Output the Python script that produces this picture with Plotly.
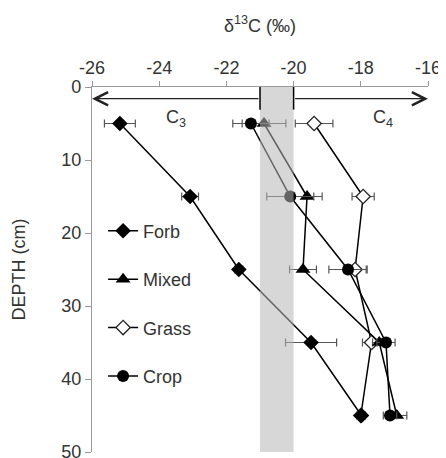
import plotly.graph_objects as go

depth = [5, 15, 25, 35, 45]
forb = [-25.17, -23.08, -21.63, -19.48, -17.98]
forb_err = [0.46, 0.25, 0.12, 0.76, 0.12]
mixed = [-20.88, -19.6, -19.72, -17.45, -16.93]
mixed_err = [0.65, 0.45, 0.4, 0.2, 0.3]
grass = [-19.39, -17.93, -18.17, -17.68, -18.0]
grass_err = [0.56, 0.33, 0.33, 0.27, 0.12]
crop = [-21.27, -20.1, -18.38, -17.25, -17.13]
crop_err = [0.54, 0.7, 0.57, 0.27, 0.2]

x_ticks = [-26, -24, -22, -20, -18, -16]
y_ticks = [0, 10, 20, 30, 40, 50]
band = [-21, -20]

# drawing order (Grass first so Forb covers it at 45 cm); legend order via legendrank
series = [
    ("Grass", grass, grass_err, 3, dict(symbol="diamond", size=11, color="white",
                                        line=dict(color="#222", width=1.3))),
    ("Forb", forb, forb_err, 1, dict(symbol="diamond", size=12, color="black")),
    ("Mixed", mixed, mixed_err, 2, dict(symbol="triangle-up", size=13, color="black")),
    ("Crop", crop, crop_err, 4, dict(symbol="circle", size=12, color="black")),
]

fig = go.Figure()
for name, xs, errs, rank, mk in series:
    fig.add_trace(go.Scatter(
        x=xs, y=depth, name=name, mode="lines+markers",
        line=dict(color="black", width=1.5),
        marker=mk, legendgroup=name, legendrank=rank,
        error_x=dict(type="data", array=errs, color="#555", thickness=1.2, width=4),
    ))

fig.add_shape(type="rect", x0=band[0], x1=band[1], y0=0, y1=50,
              xref="x", yref="y", layer="above", line=dict(width=0),
              fillcolor="rgba(183,183,183,0.55)")
for bx in band:
    fig.add_shape(type="line", x0=bx, x1=bx, y0=0, y1=3.1, xref="x", yref="y",
                  layer="above", line=dict(color="black", width=1.5))

for tip, tail in [(-26, -21), (-16, -20)]:
    fig.add_annotation(x=tip, y=1.6, ax=tail, ay=1.6, xref="x", yref="y",
                       axref="x", ayref="y", showarrow=True, arrowhead=5,
                       arrowsize=2.0, arrowwidth=1.3, arrowcolor="#222", text="")
fig.add_annotation(x=-23.5, y=4.3, xref="x", yref="y", text="C<sub>3</sub>",
                   showarrow=False, font=dict(size=18, color="#333"))
fig.add_annotation(x=-17.35, y=4.3, xref="x", yref="y", text="C<sub>4</sub>",
                   showarrow=False, font=dict(size=18, color="#333"))

font = "Liberation Sans, Arial, sans-serif"
fig.update_layout(
    width=438, height=450,
    margin=dict(l=84, r=18, t=79, b=6),
    paper_bgcolor="white", plot_bgcolor="white",
    font=dict(family=font, color="#333", size=16),
    showlegend=True,
    legend=dict(x=0.033, y=0.656, xanchor="left", yanchor="top",
                bgcolor="rgba(0,0,0,0)", font=dict(size=18, color="#333"),
                tracegroupgap=22, itemwidth=30),
    xaxis=dict(side="top", range=[-26, -16], tickvals=x_ticks,
               ticktext=[str(v) for v in x_ticks], showgrid=False,
               zeroline=False, showline=True, linecolor="#999", linewidth=1.2,
               ticks="outside", ticklen=5, tickcolor="#999", automargin=False,
               ticklabeloverflow="allow", tickfont=dict(size=18),
               title=dict(text="δ<sup>13</sup>C (‰)", font=dict(size=18), standoff=20)),
    yaxis=dict(range=[50, 0], tickvals=y_ticks, ticktext=[str(v) for v in y_ticks],
               showgrid=False, zeroline=False, automargin=False,
               ticklabeloverflow="allow",
               showline=True, linecolor="#999", linewidth=1.2, ticks="outside",
               ticklen=6, tickcolor="#999", tickfont=dict(size=18),
               title=dict(text="DEPTH (cm)", font=dict(size=18), standoff=30)),
)

fig.write_html("out.html")
